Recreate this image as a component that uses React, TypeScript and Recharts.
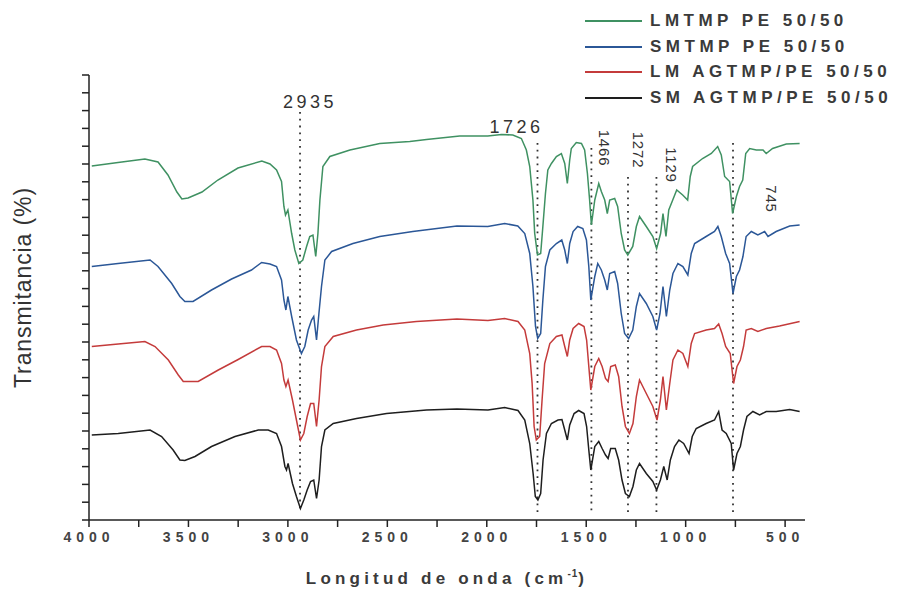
import { LineChart, Line, XAxis, YAxis, ReferenceLine, ReferenceDot, Label } from "recharts";

// FTIR spectra, [wavenumber cm-1, transmittance (arbitrary, offset per sample)]
const lmTmpPe: [number, number][] = [
  [3986, 70.8], [3854, 71.5], [3719, 72.2], [3653, 71.6], [3603, 69], [3558, 65.6], [3533, 64.2], [3502, 64.4],
  [3432, 65.6], [3352, 68], [3251, 70.4], [3131, 71.8], [3090, 71.2], [3057, 70], [3032, 67.7], [3020, 62.7],
  [3012, 61], [3000, 62], [2981, 57.3], [2965, 54], [2945, 51.3], [2925, 52], [2906, 54.7], [2890, 56.7],
  [2874, 57], [2860, 52.7], [2849, 57.3], [2839, 64], [2824, 70.7], [2789, 72.7], [2688, 74], [2538, 75.3],
  [2387, 75.7], [2303, 76.1], [2136, 76.8], [1995, 76.8], [1926, 77.1], [1869, 77], [1826, 76.3], [1801, 74],
  [1784, 70.7], [1768, 64], [1759, 57.3], [1745, 53], [1729, 53.3], [1718, 58.7], [1705, 65.3], [1693, 70],
  [1675, 71.3], [1650, 72.7], [1625, 73.3], [1608, 71.3], [1595, 67.3], [1583, 72], [1575, 74.3], [1550, 75.5],
  [1524, 75.3], [1508, 74], [1494, 69.3], [1483, 64], [1474, 59], [1457, 64], [1437, 67.3], [1424, 65.7],
  [1407, 64], [1394, 61.3], [1382, 64], [1357, 64.3], [1342, 62.7], [1324, 57.3], [1307, 54], [1291, 53],
  [1266, 54.7], [1248, 58.7], [1232, 60.7], [1198, 58.7], [1165, 56.7], [1146, 54.3], [1126, 57.3], [1114, 61.3],
  [1099, 56.7], [1085, 62], [1065, 64], [1045, 66], [1015, 65], [990, 64], [977, 68.7], [965, 70.7],
  [915, 72.3], [871, 73.3], [839, 74.7], [821, 73], [804, 68.7], [779, 67.7], [764, 61.3], [745, 64.7],
  [729, 66.7], [713, 68], [698, 73.3], [678, 74.3], [645, 74], [611, 74], [595, 73.3], [563, 74.3],
  [494, 75.2], [427, 75.3],
];

const smTmpPe: [number, number][] = [
  [3986, 50.7], [3854, 51.3], [3693, 52], [3653, 50.7], [3584, 47.3], [3543, 44.7], [3518, 43.7], [3477, 43.7],
  [3384, 46], [3283, 48.2], [3183, 50], [3132, 51.5], [3090, 51.2], [3057, 50.7], [3032, 48], [3020, 44],
  [3010, 42], [3000, 44.7], [2981, 40.7], [2957, 36], [2932, 33.3], [2915, 34.7], [2898, 38], [2881, 40],
  [2870, 40.7], [2856, 36], [2844, 41.3], [2831, 46.7], [2814, 52], [2780, 53.7], [2673, 55.3], [2538, 56.7],
  [2372, 57.7], [2150, 58.8], [1995, 58.7], [1910, 59.3], [1844, 58.8], [1809, 57.3], [1784, 53.3], [1768, 46.7],
  [1755, 38.7], [1744, 36.3], [1729, 37.3], [1718, 44], [1705, 50.7], [1683, 54], [1650, 55.3], [1623, 56],
  [1608, 54], [1595, 51.3], [1583, 55.3], [1566, 57.7], [1543, 58.7], [1517, 58.3], [1499, 56], [1487, 50.7],
  [1477, 44], [1457, 48.7], [1442, 51.3], [1424, 50], [1407, 48], [1394, 46], [1382, 49.3], [1357, 49.7],
  [1342, 47.3], [1324, 41.3], [1307, 37.3], [1287, 36.3], [1266, 38], [1248, 42.7], [1232, 45.3], [1198, 43.3],
  [1165, 40.7], [1146, 38], [1129, 41.3], [1114, 46.7], [1097, 40.7], [1080, 46], [1064, 49.3], [1039, 51.3],
  [1014, 50.7], [989, 49], [972, 53.3], [955, 55.3], [897, 56.7], [855, 57.7], [838, 58.7], [821, 56.7],
  [799, 53.3], [779, 51.3], [762, 45.3], [745, 48.7], [729, 50], [712, 52.7], [696, 56.7], [670, 57.7],
  [637, 57], [603, 57.7], [586, 56.7], [545, 57.7], [477, 58.8], [427, 59],
];

const lmAgtmpPe: [number, number][] = [
  [3986, 34.7], [3853, 35.2], [3719, 35.7], [3668, 34.7], [3601, 32], [3551, 29], [3526, 27.7], [3451, 27.7],
  [3350, 30], [3250, 32.1], [3132, 34.7], [3090, 34.7], [3057, 34], [3032, 31.3], [3020, 28], [3010, 26.7],
  [2999, 28], [2977, 24], [2957, 20], [2937, 16], [2920, 17.3], [2903, 20.7], [2886, 23.3], [2870, 23.3],
  [2856, 18.7], [2843, 24], [2831, 30.7], [2814, 34.7], [2772, 36.7], [2655, 38], [2521, 39], [2354, 39.7],
  [2150, 40.2], [1994, 39.9], [1910, 40.3], [1843, 39.7], [1809, 38], [1784, 33.3], [1772, 27.3], [1762, 18.7],
  [1751, 16], [1734, 16.7], [1722, 24], [1709, 31.3], [1683, 35.3], [1650, 36.7], [1622, 37], [1608, 34.7],
  [1595, 32.7], [1583, 36], [1566, 38.3], [1538, 39.3], [1511, 38.7], [1498, 36], [1487, 30.7], [1477, 26],
  [1457, 30.7], [1437, 32.3], [1420, 30.7], [1403, 28.3], [1390, 27.7], [1377, 30.7], [1354, 31], [1337, 28.7],
  [1320, 22.7], [1303, 18.7], [1283, 17.3], [1265, 19.3], [1248, 24.7], [1232, 28], [1198, 25.3], [1165, 22.7],
  [1144, 20], [1127, 24], [1114, 28.7], [1097, 22], [1080, 27.3], [1064, 32], [1039, 34], [1014, 33.3],
  [989, 30.7], [972, 35.3], [955, 37.3], [897, 38], [855, 38.3], [834, 39.2], [817, 37.3], [799, 34.7],
  [776, 33.3], [759, 27.3], [742, 30.7], [725, 32], [709, 34.7], [696, 38], [670, 38.3], [637, 37.7],
  [595, 38.3], [528, 38.8], [427, 39.7],
];

const smAgtmpPe: [number, number][] = [
  [3986, 17], [3853, 17.3], [3693, 18], [3635, 16.7], [3577, 14], [3543, 12], [3518, 11.9], [3467, 12.7],
  [3384, 14.7], [3266, 16.7], [3149, 18], [3099, 18], [3057, 17.3], [3032, 14.7], [3015, 10.7], [3007, 10],
  [2999, 11.3], [2977, 7.3], [2957, 4.7], [2937, 2.3], [2920, 4], [2903, 6], [2886, 7.7], [2870, 8],
  [2856, 4.3], [2843, 8], [2831, 14.7], [2814, 18], [2772, 19.3], [2655, 20.3], [2504, 21.3], [2303, 22],
  [2150, 22.2], [1994, 22], [1910, 22.5], [1843, 21.9], [1809, 20], [1784, 15.3], [1767, 9.3], [1756, 4.7],
  [1743, 4], [1729, 5.3], [1717, 12], [1700, 17.3], [1675, 19.3], [1642, 20], [1622, 20.1], [1608, 18],
  [1595, 16], [1583, 19], [1561, 21.3], [1538, 21.9], [1511, 21.3], [1498, 18.7], [1487, 14], [1477, 10],
  [1457, 14.7], [1437, 15.7], [1420, 14.3], [1403, 13], [1390, 12.3], [1377, 14.3], [1354, 14.3], [1337, 12],
  [1320, 8], [1303, 5.3], [1283, 4.7], [1265, 6.7], [1248, 10], [1232, 11.3], [1198, 9.3], [1165, 7.7],
  [1146, 6], [1127, 8], [1110, 10.7], [1093, 8], [1077, 12], [1056, 14.7], [1034, 16], [1010, 15.3],
  [983, 13.3], [967, 16.7], [947, 18.3], [897, 19.3], [855, 20], [834, 21.7], [817, 18], [796, 17.3],
  [771, 15.3], [759, 10], [742, 13.3], [725, 14.7], [709, 18], [692, 20.7], [662, 21.7], [628, 21],
  [595, 21.7], [545, 21.7], [477, 22.1], [427, 21.7],
];

const seriesNames = ["LMTMP PE 50/50", "SMTMP PE 50/50", "LM AGTMP/PE 50/50", "SM AGTMP/PE 50/50"];
const seriesData = [lmTmpPe, smTmpPe, lmAgtmpPe, smAgtmpPe];
const seriesColors = ["#3f9162", "#2b5797", "#c43b3b", "#1e1e1e"];

const xTicks = [4000, 3750, 3500, 3250, 3000, 2750, 2500, 2250, 2000, 1750, 1500, 1250, 1000, 750, 500];

// peak markers: label, where the dotted line is drawn, top of the dotted line
const peakLabels = ["2935", "1726", "1466", "1272", "1129", "745"];
const peakAt = [2939, 1745, 1474, 1290, 1147, 762];
const peakTop = [81.6, 75.4, 74.4, 68.6, 68.6, 75.4];
const peakBottom = 1.4;

// label placement relative to top of the dotted line (px)
const peakLabelStyle = [
  { dx: 10, dy: -4, vertical: false },
  { dx: -21, dy: -10, vertical: false },
  { dx: 13, dy: 0, vertical: true },
  { dx: 11, dy: -27, vertical: true },
  { dx: 15, dy: -12, vertical: true },
  { dx: 38, dy: 56, vertical: true },
];

const Y_MAX = 89;
const yTicks = Array.from({ length: 26 }, (_, i) => (i * Y_MAX) / 25);

const FONT = "Arial, 'Liberation Sans', sans-serif";
const toPoints = (pairs: [number, number][]) => pairs.map(([w, t]) => ({ w, t }));

function PeakText(props: any) {
  const vb = props.viewBox || {};
  const cx = (vb.x ?? 0) + (vb.width ?? 0) / 2;
  const cy = (vb.y ?? 0) + (vb.height ?? 0) / 2;
  const { text, dx, dy, vertical } = props;
  const x = cx + dx;
  const y = cy + dy;
  if (vertical) {
    return (
      <text x={x} y={y} transform={`rotate(90, ${x}, ${y})`} textAnchor="middle" dominantBaseline="central"
        fontFamily={FONT} fontSize={15} letterSpacing={0.8} fill="#333">
        {text}
      </text>
    );
  }
  return (
    <text x={x} y={y} textAnchor="middle" fontFamily={FONT} fontSize={18} letterSpacing={3.5} fill="#333">
      {text}
    </text>
  );
}

function YTitle(props: any) {
  const vb = props.viewBox || { x: 69, y: 75, width: 20, height: 445 };
  const x = vb.x - 46;
  const y = vb.y + vb.height / 2 - 10;
  return (
    <text x={x} y={y} transform={`rotate(-90, ${x}, ${y})`} textAnchor="middle" dominantBaseline="central"
      fontFamily={FONT} fontSize={23} letterSpacing={0.9} fill="#333">
      Transmitancia (%)
    </text>
  );
}

function XTitle(props: any) {
  const vb = props.viewBox || { x: 89, y: 520, width: 716, height: 30 };
  return (
    <text x={vb.x + vb.width / 2} y={vb.y + 64} textAnchor="middle" fontFamily={FONT} fontSize={17}
      fontWeight="bold" letterSpacing={4.2} fill="#3a3a3a">
      Longitud de onda (cm
      <tspan dy={-7} fontSize={10} letterSpacing={1}>-1</tspan>
      <tspan dy={7}>)</tspan>
    </text>
  );
}

export default function App() {
  return (
    <div style={{ position: "absolute", left: 0, top: 0, width: 910, height: 590, background: "#fff" }}>
      <LineChart width={910} height={590} margin={{ top: 75, right: 105, bottom: 40, left: 69 }}>
        <XAxis
          dataKey="w"
          type="number"
          domain={[400, 4000]}
          reversed
          allowDataOverflow
          ticks={xTicks}
          interval={0}
          tickFormatter={(v: number) => (v % 500 === 0 ? String(v) : "")}
          height={30}
          tickSize={7}
          tickMargin={5}
          stroke="#222"
          strokeWidth={1.5}
          tick={{ fontSize: 14, fontWeight: "bold", fill: "#444", fontFamily: FONT, letterSpacing: 5 }}
        >
          <Label content={<XTitle />} />
        </XAxis>
        <YAxis
          type="number"
          domain={[0, Y_MAX]}
          allowDataOverflow
          ticks={yTicks}
          interval={0}
          tickFormatter={() => ""}
          width={20}
          tickSize={7}
          stroke="#222"
          strokeWidth={1.5}
        >
          <Label content={<YTitle />} />
        </YAxis>
        {peakLabels.map((lab, i) => (
          <ReferenceLine
            key={"l" + lab}
            segment={[{ x: peakAt[i], y: peakTop[i] }, { x: peakAt[i], y: peakBottom }]}
            stroke="#333"
            strokeWidth={1.8}
            strokeDasharray="1.8 5"
          />
        ))}
        {seriesNames.map((name, i) => (
          <Line
            key={name}
            name={name}
            data={toPoints(seriesData[i])}
            dataKey="t"
            type="linear"
            stroke={seriesColors[i]}
            strokeWidth={1.5}
            dot={false}
            activeDot={false}
            isAnimationActive={false}
          />
        ))}
        {peakLabels.map((lab, i) => (
          <ReferenceDot
            key={"d" + lab}
            x={peakAt[i]}
            y={peakTop[i]}
            r={0}
            fill="none"
            stroke="none"
            label={<PeakText text={lab} {...peakLabelStyle[i]} />}
          />
        ))}
      </LineChart>
      <div style={{ position: "absolute", left: 585, top: 8, fontFamily: FONT }}>
        {seriesNames.map((name, i) => (
          <div key={name} style={{ display: "flex", alignItems: "center", height: 25.7 }}>
            <div style={{ width: 57, height: 2, background: seriesColors[i] }} />
            <span style={{ marginLeft: 8, fontSize: 17, fontWeight: "bold", letterSpacing: 4.5, color: "#3a3a3a", whiteSpace: "nowrap" }}>
              {name}
            </span>
          </div>
        ))}
      </div>
    </div>
  );
}
